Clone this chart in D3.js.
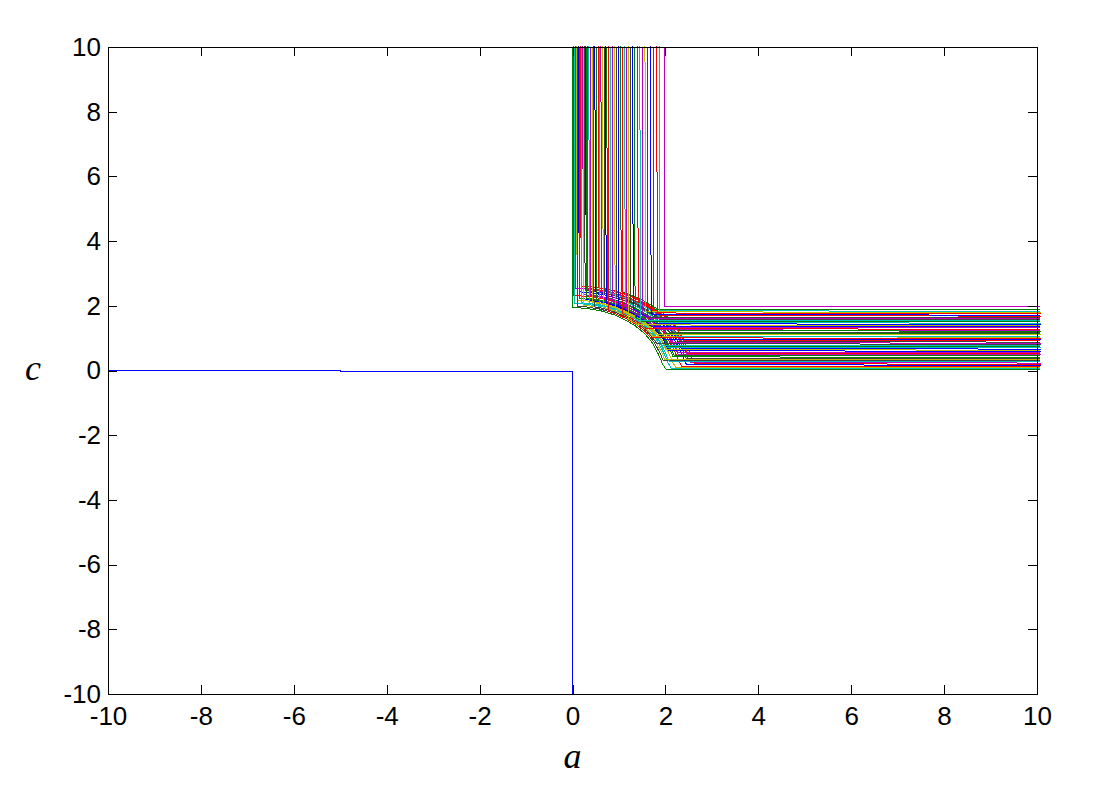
<!DOCTYPE html>
<html>
<head>
<meta charset="utf-8">
<script src="https://cdn.jsdelivr.net/npm/d3@7"></script>
<style>
body { margin: 0; background: #fff; }
svg { display: block; }
.axis text { font-family: "Liberation Sans", Arial, sans-serif; font-size: 26px; fill: #000; }
.axis line, .axis path { stroke: #000; stroke-width: 1; shape-rendering: crispEdges; }
.lab { font-family: "Liberation Serif", "Times New Roman", serif; font-style: italic; font-size: 36px; fill: #000; }
</style>
</head>
<body>
<div id="chart"></div>
<script>

const config = { top: 47, right: 83, bottom: 96, left: 108 }
const width = 1120
const height = 790

// tick values (same on both axes)
const aTicks = [-10, -8, -6, -4, -2, 0, 2, 4, 6, 8, 10]
const cTicks = [-10, -8, -6, -4, -2, 0, 2, 4, 6, 8, 10]

// the blue curve (a<=0 , c<=0)
const blueA = [-10, -5, -5, 0, 0]
const blueC = [0, 0, -0.03, -0.03, -10]

// inner edge of the coloured family
const edgeA = [0.00, 0.30, 0.60, 0.90, 1.15, 1.35, 1.55, 1.72, 1.85, 1.94, 2.00, 2.04]
const edgeC = [1.95, 1.92, 1.85, 1.72, 1.55, 1.38, 1.15, 0.85, 0.50, 0.20, 0.06, 0.00]

// each coloured curve: level of its vertical part (top), level of its horizontal part (right),
// size of its bend, and how much it drifts before straightening out
const curveA = [0.00, 0.02, 0.04, 0.06, 0.09, 0.11, 0.13, 0.15, 0.17, 0.19, 0.22, 0.24, 0.26, 0.28, 0.30, 0.32, 0.35, 0.39,
                0.42, 0.45, 0.48, 0.52, 0.55, 0.58, 0.61, 0.65, 0.68, 0.71, 0.74, 0.77, 0.82, 0.86, 0.90, 0.95, 0.99, 1.03,
                1.08, 1.12, 1.16, 1.20, 1.25, 1.29, 1.34, 1.40, 1.45, 1.51, 1.56, 1.61, 1.68, 1.74, 1.81, 1.87, 1.98]
const curveC = [0.02, 0.12, 0.05, 0.23, 0.09, 0.30, 0.16, 0.41, 0.19, 0.27, 0.48, 0.34, 0.37, 0.59, 0.45, 0.52, 0.70, 0.55,
                0.63, 0.81, 0.66, 0.74, 0.92, 0.77, 0.84, 1.03, 0.88, 0.95, 1.13, 0.99, 1.06, 1.24, 1.10, 1.17, 1.35, 1.21,
                1.28, 1.46, 1.32, 1.39, 1.57, 1.42, 1.50, 1.68, 1.53, 1.61, 1.79, 1.64, 1.71, 1.88, 1.75, 1.83, 1.98]
const curveS = [1.00, 1.18, 1.06, 1.29, 1.11, 1.02, 1.24, 1.14, 1.33, 1.08, 1.20, 1.04, 1.27, 1.12, 1.16, 1.31, 1.07, 1.22,
                1.10, 1.03, 1.26, 1.15, 1.34, 1.09, 1.19, 1.05, 1.28, 1.13, 1.21, 1.01, 1.30, 1.17, 1.08, 1.25, 1.12, 1.35,
                1.06, 1.23, 1.14, 1.02, 1.27, 1.18, 1.10, 1.32, 1.04, 1.21, 1.15, 1.09, 1.26, 1.12, 1.19, 1.07, 1.10]
const curveDrift = [0.0, 0.6, 0.3, 0.9, 0.5, 0.2, 0.8, 0.4, 1.0, 0.1, 0.7, 0.3, 0.6, 0.9, 0.2, 0.5, 0.8, 0.1,
                    0.4, 0.7, 1.0, 0.3, 0.6, 0.0, 0.9, 0.5, 0.2, 0.8, 0.4, 0.7, 0.1, 0.6, 0.9, 0.3, 0.5, 1.0,
                    0.2, 0.8, 0.4, 0.6, 0.1, 0.9, 0.3, 0.7, 0.5, 0.0, 0.8, 0.4, 0.6, 0.2, 0.9, 0.5, 0.0]
const driftA = 0.022
const driftC = 0.032
const aTop = 10
const aEnd = 10.06

// matlab default line colours
const colorOrder = ['#0000ff', '#008000', '#ff0000', '#00bfbf', '#bf00bf', '#bfbf00', '#404040']

const x = d3.scaleLinear().domain([-10, 10]).range([config.left, width - config.right])
const y = d3.scaleLinear().domain([-10, 10]).range([height - config.bottom, config.top])

const svg = d3.select('#chart').append('svg').attr('width', width).attr('height', height)

const lineGen = d3.line().x(d => x(d[0])).y(d => y(d[1]))

// clamp the bend to the curve's two levels, adding the crossing points
function buildCurve(a0, c0, s, dr) {
    const base = [[0, aTop]]
    edgeA.forEach((a, i) => base.push([a * s, edgeC[i] * s]))
    base.push([aEnd, 0])

    const pts = []
    for (let i = 0; i < base.length; i++) {
        const p = base[i]
        if (i > 0) {
            const q = base[i - 1]
            const cuts = []
            if ((q[0] - a0) * (p[0] - a0) < 0) cuts.push((a0 - q[0]) / (p[0] - q[0]))
            if ((q[1] - c0) * (p[1] - c0) < 0) cuts.push((c0 - q[1]) / (p[1] - q[1]))
            cuts.sort((m, n) => m - n).forEach(t => {
                pts.push([q[0] + t * (p[0] - q[0]), q[1] + t * (p[1] - q[1])])
            })
        }
        pts.push(p)
    }
    const clamped = pts.map(p => [Math.max(a0, p[0]), Math.max(c0, p[1])])
    // slow drift of the straight parts
    return clamped.map(p => {
        const tv = Math.min(1, Math.max(0, (aTop - p[1]) / (aTop - c0)))
        const th = Math.min(1, Math.max(0, (aEnd - p[0]) / (aEnd - a0)))
        return [p[0] + driftA * dr * tv, p[1] + driftC * dr * th]
    })
}

// blue curve
svg.append('path')
    .datum(blueA.map((a, i) => [a, blueC[i]]))
    .attr('d', lineGen)
    .attr('fill', 'none')
    .attr('stroke', colorOrder[0])
    .attr('stroke-width', 1)
    .attr('shape-rendering', 'crispEdges')

curveA.forEach(function (a0, i) {
    svg.append('path')
        .datum(buildCurve(a0, curveC[i], curveS[i], curveDrift[i]))
        .attr('d', lineGen)
        .attr('fill', 'none')
        .attr('stroke', colorOrder[(i + 1) % colorOrder.length])
        .attr('stroke-width', 1)
        .attr('shape-rendering', 'crispEdges')
})

// axes, matlab style box with inward ticks
const fmt = d => String(d)

svg.append('g').attr('class', 'axis')
    .attr('transform', `translate(0,${y(-10)})`)
    .call(d3.axisBottom(x).tickValues(aTicks).tickSizeInner(-9).tickSizeOuter(0).tickPadding(13).tickFormat(fmt))

svg.append('g').attr('class', 'axis')
    .attr('transform', `translate(0,${y(10)})`)
    .call(d3.axisTop(x).tickValues(aTicks).tickSizeInner(-9).tickSizeOuter(0).tickFormat(''))

svg.append('g').attr('class', 'axis')
    .attr('transform', `translate(${x(-10)},0)`)
    .call(d3.axisLeft(y).tickValues(cTicks).tickSizeInner(-9).tickSizeOuter(0).tickPadding(7).tickFormat(fmt))

svg.append('g').attr('class', 'axis')
    .attr('transform', `translate(${x(10)},0)`)
    .call(d3.axisRight(y).tickValues(cTicks).tickSizeInner(-9).tickSizeOuter(0).tickFormat(''))

svg.selectAll('.axis text').attr('font-family', null)

// axis labels
svg.append('text').attr('class', 'lab')
    .attr('x', x(0)).attr('y', 768)
    .attr('text-anchor', 'middle')
    .text('a')

svg.append('text').attr('class', 'lab')
    .attr('x', 33).attr('y', y(0) + 9)
    .attr('text-anchor', 'middle')
    .text('c')

</script>
</body>
</html>
